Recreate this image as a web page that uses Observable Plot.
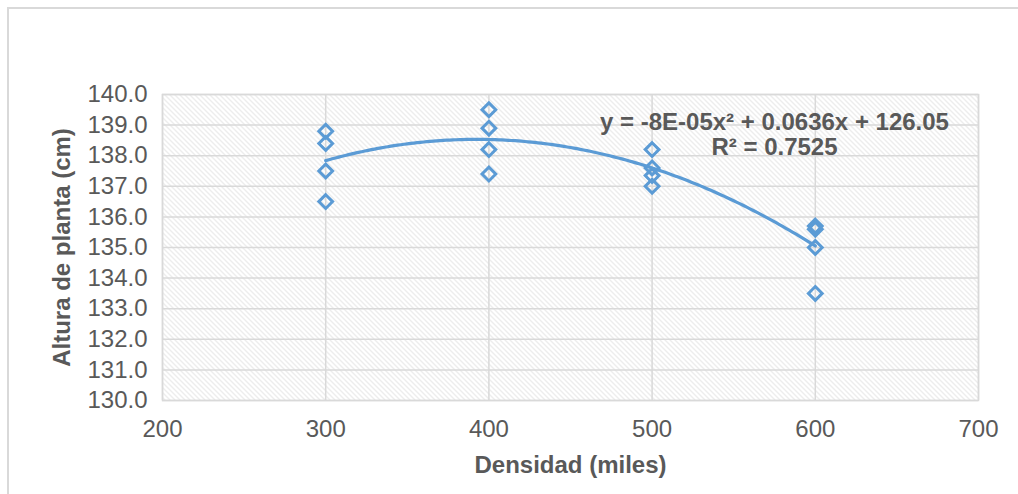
<!DOCTYPE html>
<html>
<head>
<meta charset="utf-8">
<script src="https://cdn.jsdelivr.net/npm/d3@7"></script>
<script src="https://cdn.jsdelivr.net/npm/@observablehq/plot@0.6"></script>
<style>
  html, body { margin: 0; padding: 0; background: #fff; }
  #chart { position: relative; width: 1018px; height: 494px; overflow: hidden; }
  #edge { position: absolute; left: 7px; top: 7px; right: -10px; bottom: -10px;
          border-top: 2px solid #d9d9d9; border-left: 2px solid #d9d9d9; pointer-events: none; }
  #chart svg { position: absolute; left: 0; top: 0; }
</style>
</head>
<body>
<div id="chart"><div id="edge"></div></div>
<script>
// Plant density (thousands) and plant height (cm), four plots per density
const densidad = [300, 300, 300, 300, 400, 400, 400, 400, 500, 500, 500, 500, 600, 600, 600, 600];
const altura = [138.8, 138.4, 137.5, 136.5, 139.5, 138.9, 138.2, 137.4, 138.2, 137.6, 137.35, 137.0, 135.7, 135.6, 135.0, 133.5];

// Quadratic trendline y = a·x² + b·x + c and its R²
const coef = [-8.1e-5, 0.0636, 126.05];
const r2 = 0.7525;

const xTicks = [200, 300, 400, 500, 600, 700];
const yTicks = [130, 131, 132, 133, 134, 135, 136, 137, 138, 139, 140];

const puntos = densidad.map((d, i) => ({x: d, y: altura[i]}));
const [a, b, c] = coef;
const curva = d3.range(300, 600.5, 2).map(x => ({x, y: a * x * x + b * x + c}));

// Spreadsheet-style coefficient text, e.g. -8E-05
function sci(v) {
  const [m, e] = v.toExponential(0).split("e");
  const n = Math.abs(+e);
  return m + "E" + (+e < 0 ? "-" : "+") + String(n).padStart(2, "0");
}
const ecuacion = `y = ${sci(a)}x² + ${b}x + ${c}\nR² = ${r2}`;

const gray = "#595959";
const blue = "#5b9bd5";

const plot = Plot.plot({
  width: 1018,
  height: 494,
  marginLeft: 162,
  marginRight: 40,
  marginTop: 94,
  marginBottom: 94,
  style: {fontFamily: "'Liberation Sans', Arial, sans-serif", fontSize: "24px", color: gray, background: "transparent"},
  x: {domain: [200, 700], ticks: xTicks, label: null},
  y: {domain: [130, 140], ticks: yTicks, label: null},
  marks: [
    Plot.frame({fill: "url(#trama)", stroke: "none"}),
    Plot.gridX(xTicks, {stroke: "#d9d9d9", strokeOpacity: 1, strokeWidth: 1.5}),
    Plot.gridY(yTicks, {stroke: "#d9d9d9", strokeOpacity: 1, strokeWidth: 1.5}),
    Plot.frame({stroke: "#d9d9d9", strokeWidth: 1.5}),
    Plot.axisX(xTicks, {tickSize: 0, tickPadding: 19, fill: gray, fontSize: 24, label: null}),
    Plot.axisY(yTicks, {tickSize: 0, tickPadding: 15, fill: gray, fontSize: 24, tickFormat: d => d.toFixed(1), label: null}),
    Plot.dot(puntos, {x: "x", y: "y", symbol: "diamond2", r: 6.2, stroke: blue, strokeWidth: 3, fill: "none"}),
    Plot.line(curva, {x: "x", y: "y", stroke: blue, strokeWidth: 3.2, curve: "linear"}),
    Plot.text([ecuacion], {frameAnchor: "top-right", dx: -204, dy: 40, textAnchor: "middle", lineAnchor: "middle",
      lineHeight: 1.04, fontWeight: "bold", fontSize: 24, fill: gray}),
    Plot.text(["Densidad (miles)"], {frameAnchor: "bottom", dy: 65, lineAnchor: "middle",
      fontWeight: "bold", fontSize: 24, fill: gray}),
    Plot.text(["Altura de planta (cm)"], {frameAnchor: "left", dx: -100, rotate: -90, textAnchor: "middle", lineAnchor: "middle",
      fontWeight: "bold", fontSize: 24, fill: gray})
  ]
});

// Diagonal hatch fill for the plotting area
const defs = d3.select(plot).insert("defs", ":first-child");
const pat = defs.append("pattern")
  .attr("id", "trama")
  .attr("patternUnits", "userSpaceOnUse")
  .attr("width", 5).attr("height", 5);
pat.append("rect").attr("width", 5).attr("height", 5).attr("fill", "#fff");
pat.append("path")
  .attr("d", "M-1,-1 L6,6 M-1,4 L1,6 M4,-1 L6,1")
  .attr("stroke", "#dadada").attr("stroke-width", 1);

document.getElementById("chart").appendChild(plot);
</script>
</body>
</html>
